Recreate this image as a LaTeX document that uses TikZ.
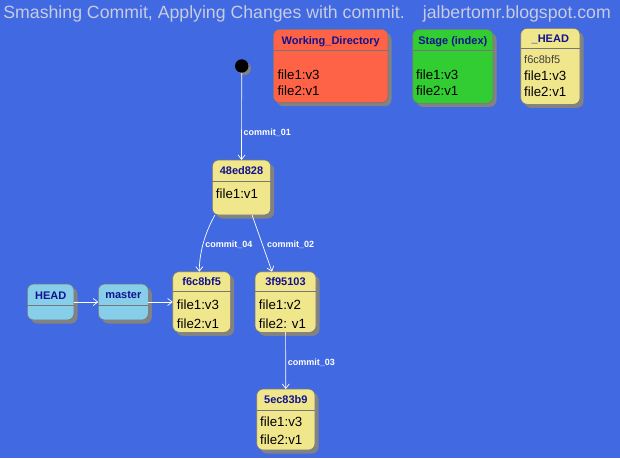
\documentclass[tikz,border=0pt]{standalone}
\usepackage{fontspec}
\setmainfont{Liberation Sans}
\usetikzlibrary{arrows.meta,shadows}
\definecolor{bgblue}{RGB}{65,105,225}
\definecolor{titlegray}{RGB}{198,204,226}
\definecolor{headblue}{RGB}{18,18,140}
\definecolor{wdred}{RGB}{255,99,71}
\definecolor{stagegreen}{RGB}{50,205,50}
\definecolor{commitkhaki}{RGB}{240,230,140}
\definecolor{refblue}{RGB}{135,206,235}
\definecolor{boxline}{RGB}{118,118,118}
\definecolor{shadowgray}{RGB}{130,130,130}
\definecolor{hashgray}{RGB}{64,64,64}
\begin{document}
\begin{tikzpicture}[x=1pt,y=-1pt,
        box/.style={shape=rectangle, draw=boxline, line width=0.6pt, rounded corners=6.5pt, anchor=north west,
            inner sep=0pt, outer sep=0pt,
            preaction={fill=shadowgray, rounded corners=6.5pt, transform canvas={xshift=3.5pt, yshift=-3.5pt}}},
        headtext/.style={font=\fontsize{11}{13}\selectfont\bfseries, text=headblue, inner sep=0pt, text depth=0pt},
        filetext/.style={font=\fontsize{13.3}{16}\selectfont, anchor=west, inner sep=0pt, text depth=0pt},
        titletext/.style={font=\fontsize{17.7}{20}\selectfont, text=titlegray, inner sep=0pt, text depth=0pt},
        divider/.style={draw=boxline, line width=0.6pt},
        link/.style={draw=white, line width=0.7pt, -{Straight Barb[length=4.5pt,width=7pt]}},
        linklabel/.style={font=\fontsize{9}{10}\selectfont\bfseries, text=white, inner sep=0pt,
            text depth=0pt, anchor=west}]
    \useasboundingbox (0,0) rectangle (620,458);
    \fill[bgblue] (0,0) rectangle (620,458);

    \node[titletext, anchor=west] (titleleft) at (3.2,12.3) {Smashing Commit, Applying Changes with commit.};
    \node[titletext, anchor=east] (titleright) at (611,12.3) {jalbertomr.blogspot.com};

    % working directory, stage and head snapshot
    \node[box, fill=wdred, minimum width=114.7pt, minimum height=73.4pt] (wd) at (273.3,29.3) {};
    \node[box, fill=stagegreen, minimum width=80.3pt, minimum height=74pt] (stage) at (412.7,29.3) {};
    \node[box, fill=commitkhaki, minimum width=59.3pt, minimum height=76pt] (snap) at (520.7,28.3) {};
    \path[divider] (wd.west |- 0,50.7) -- (wd.east |- 0,50.7)
                   (stage.west |- 0,50.7) -- (stage.east |- 0,50.7)
                   (snap.west |- 0,48.3) -- (snap.east |- 0,48.3);

    \node[headtext] (wdhead) at (330.7,40.5) {Working\_Directory};
    \node[filetext] (wdfile1) at (277.3,74.3) {file1:v3};
    \node[filetext] (wdfile2) at (277.3,91) {file2:v1};

    \node[headtext] (stagehead) at (452.8,40.5) {Stage (index)};
    \node[filetext] (stagefile1) at (416,74.3) {file1:v3};
    \node[filetext] (stagefile2) at (416,91) {file2:v1};

    \node[headtext] (snaphead) at (550.3,38.5) {\_HEAD};
    \node[filetext, font=\fontsize{11}{13}\selectfont, text=hashgray] (snaphash) at (524,60) {f6c8bf5};
    \node[filetext] (snapfile1) at (524,76) {file1:v3};
    \node[filetext] (snapfile2) at (524,91.5) {file2:v1};

    % commits
    \node[circle, fill=black, minimum size=13.4pt, inner sep=0pt,
          drop shadow={shadow xshift=2.5pt, shadow yshift=-2.5pt, fill=shadowgray, opacity=1}] (start) at (241.7,66) {};
    \node[box, fill=commitkhaki, minimum width=58.4pt, minimum height=55pt] (c48) at (212.3,160) {};
    \node[box, fill=commitkhaki, minimum width=58pt, minimum height=60.6pt] (cf6) at (172.7,271.7) {};
    \node[box, fill=commitkhaki, minimum width=61pt, minimum height=60.6pt] (c3f) at (255,271.7) {};
    \node[box, fill=commitkhaki, minimum width=58.3pt, minimum height=61pt] (c5e) at (256.7,389) {};
    \path[divider] (c48.west |- 0,181.7) -- (c48.east |- 0,181.7)
                   (cf6.west |- 0,291) -- (cf6.east |- 0,291)
                   (c3f.west |- 0,291) -- (c3f.east |- 0,291)
                   (c5e.west |- 0,410) -- (c5e.east |- 0,410);

    \node[headtext] (c48head) at (241.5,170.8) {48ed828};
    \node[filetext] (c48file1) at (215.7,193.3) {file1:v1};

    \node[headtext] (cf6head) at (201.7,281.5) {f6c8bf5};
    \node[filetext] (cf6file1) at (176.7,305) {file1:v3};
    \node[filetext] (cf6file2) at (176.7,323.3) {file2:v1};

    \node[headtext] (c3fhead) at (285.5,281.5) {3f95103};
    \node[filetext] (c3ffile1) at (258.7,305) {file1:v2};
    \node[filetext] (c3ffile2) at (258.7,323.3) {file2: v1};

    \node[headtext] (c5ehead) at (285.85,400) {5ec83b9};
    \node[filetext] (c5efile1) at (260,421.7) {file1:v3};
    \node[filetext] (c5efile2) at (260,439.3) {file2:v1};

    % references
    \node[box, fill=refblue, minimum width=46.7pt, minimum height=36pt] (head) at (27.3,284) {};
    \node[box, fill=refblue, minimum width=50pt, minimum height=36pt] (master) at (98.3,284) {};
    \path[divider] (head.west |- 0,305) -- (head.east |- 0,305)
                   (master.west |- 0,305) -- (master.east |- 0,305);
    \node[headtext] (headhead) at (50.7,295.3) {HEAD};
    \node[headtext] (masterhead) at (123.3,295.3) {master};

    \draw[link] (start) -- node[linklabel, pos=0.68, xshift=1.8pt] (l01) {commit\_01} (c48);
    \draw[link] (c48.-134) .. controls +(-8,14) and +(0,-22) .. node[linklabel, pos=0.56, xshift=2pt] (l04) {commit\_04} ([xshift=-2.4pt]cf6.north);
    \draw[link] (c48.-69) -- node[linklabel, pos=0.51, xshift=4.5pt] (l02) {commit\_02} (c3f.114);
    \draw[link] (c3f) -- node[linklabel, pos=0.52, xshift=1.8pt] (l03) {commit\_03} (c5e);
    \draw[link] (head) -- (master);
    \draw[link] (master) -- (cf6);
\end{tikzpicture}
\end{document}
